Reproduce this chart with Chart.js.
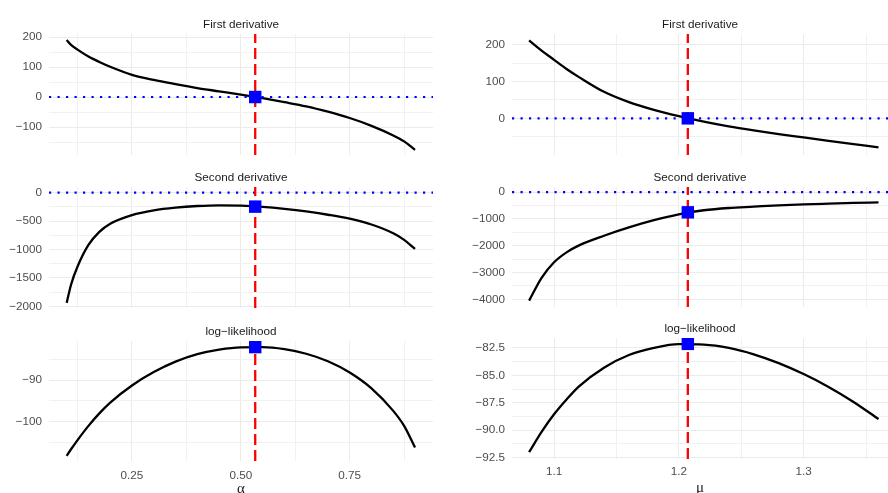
<!DOCTYPE html>
<html>
<head>
<meta charset="utf-8">
<title>Score, Hessian and log-likelihood</title>
<script src="https://cdn.jsdelivr.net/npm/chart.js@4.4.0/dist/chart.umd.min.js"></script>
<style>
    html, body { margin: 0; padding: 0; background: #fff; overflow: hidden; }
    #wrap { position: relative; width: 888px; height: 493px; overflow: hidden; }
    .panel { position: absolute; }
</style>
</head>
<body>
<div id="wrap"></div>
<script>
// alpha (left column)
const alphaVals    = [0.1, 0.11, 0.125, 0.15, 0.175, 0.2, 0.25, 0.3, 0.35, 0.4, 0.45, 0.5, 0.55, 0.6, 0.65, 0.7, 0.75, 0.8, 0.85, 0.875, 0.9];
const alphaScore   = [190, 174, 158, 135, 117, 101, 74, 57, 43, 30, 19, 8, -4, -17, -31, -49, -70, -96, -128, -148, -176];
const alphaHess    = [-1940, -1620, -1300, -920, -690, -545, -393, -310, -262, -234, -222, -228, -250, -285, -330, -388, -458, -560, -715, -830, -990];
const alphaLogLik  = [-108.2, -106.6, -104.4, -101.0, -98.0, -95.4, -91.3, -88.1, -85.6, -83.8, -82.7, -82.15, -82.12, -82.6, -83.7, -85.5, -88.2, -92.0, -97.4, -101.0, -106.2];
const alphaHat = 0.533;
const alphaHatValues = [0, -245, -82.1];   // score, hessian, loglik at the estimate

// mu (right column)
const muVals   = [1.08, 1.09, 1.1, 1.11, 1.12, 1.14, 1.16, 1.18, 1.2, 1.22, 1.24, 1.26, 1.28, 1.3, 1.32, 1.34, 1.36];
const muScore  = [212, 184, 159, 134, 112, 72, 44, 23, 6, -9, -22, -33, -43, -52, -61, -70, -79];
const muHess   = [-4050, -3200, -2620, -2250, -1990, -1630, -1320, -1050, -830, -680, -595, -545, -495, -460, -433, -408, -385];
const muLogLik = [-92.0, -90.15, -88.55, -87.2, -86.0, -84.3, -83.15, -82.5, -82.16, -82.2, -82.5, -83.08, -83.88, -84.88, -86.05, -87.42, -88.98];
const muHat = 1.2072;
const muHatValues = [0, -757, -82.13];

// tick labels
const alphaTicks  = [0.25, 0.5, 0.75];
const alphaLabels = ['0.25', '0.50', '0.75'];
const muTicks     = [1.1, 1.2, 1.3];
const muLabels    = ['1.1', '1.2', '1.3'];

const scoreTicksA  = [-100, 0, 100, 200];
const scoreLabelsA = ['\u2212100', '0', '100', '200'];
const hessTicksA   = [-2000, -1500, -1000, -500, 0];
const hessLabelsA  = ['\u22122000', '\u22121500', '\u22121000', '\u2212500', '0'];
const llTicksA     = [-100, -90];
const llLabelsA    = ['\u2212100', '\u221290'];

const scoreTicksM  = [0, 100, 200];
const scoreLabelsM = ['0', '100', '200'];
const hessTicksM   = [-4000, -3000, -2000, -1000, 0];
const hessLabelsM  = ['\u22124000', '\u22123000', '\u22122000', '\u22121000', '0'];
const llTicksM     = [-92.5, -90, -87.5, -85, -82.5];
const llLabelsM    = ['\u221292.5', '\u221290.0', '\u221287.5', '\u221285.0', '\u221282.5'];

const titles = ['First derivative', 'Second derivative', 'log\u2212likelihood'];

const wrap = document.getElementById('wrap');
const sans = "'Liberation Sans', Arial, sans-serif";

// major ticks plus ggplot style minor breaks halfway between them
function tickSet(majors, labels, min, max) {
    const step = majors[1] - majors[0];
    const all = majors.slice();
    for (let v = majors[0] - step / 2; v <= max; v += step) {
        if (v >= min) all.push(v);
    }
    all.sort((a, b) => a - b);
    return {
        build: (scale) => { scale.ticks = all.map(v => ({value: v})); },
        label: (v) => { const i = majors.indexOf(v); return i < 0 ? '' : labels[i]; },
        color: (ctx) => (ctx.tick && majors.includes(ctx.tick.value)) ? '#EBEBEB' : '#F1F1F1',
    };
}

function makePanel(p) {
    const canvas = document.createElement('canvas');
    canvas.className = 'panel';
    canvas.width = p.width;
    canvas.height = p.height;
    canvas.style.left = p.left + 'px';
    canvas.style.top = p.top + 'px';
    wrap.appendChild(canvas);

    const xt = tickSet(p.xTicks, p.xLabels, p.xMin, p.xMax);
    const yt = tickSet(p.yTicks, p.yLabels, p.yMin, p.yMax);
    const bottomRow = !!p.xTitle;

    const datasets = [
        {   // estimate
            data: [{x: p.xHat, y: p.yHat}],
            showLine: false,
            pointStyle: 'rect',
            pointRadius: 8.8,
            pointBackgroundColor: '#0000FF',
            pointBorderWidth: 0,
        },
        {   // vertical line at the estimate
            data: [{x: p.xHat, y: p.yMin}, {x: p.xHat, y: p.yMax}],
            borderColor: '#FF0000',
            borderWidth: 2.3,
            borderDash: [11, 5],
            pointRadius: 0,
        },
    ];
    if (p.zeroLine) {
        datasets.push({
            data: [{x: p.xMin, y: 0}, {x: p.xMax, y: 0}],
            borderColor: '#0000FF',
            borderWidth: 2.2,
            borderDash: [2.2, 6.3],
            pointRadius: 0,
        });
    }
    datasets.push({
        data: p.xs.map((x, i) => ({x: x, y: p.ys[i]})),
        borderColor: '#000000',
        borderWidth: 2.3,
        cubicInterpolationMode: 'monotone',
        pointRadius: 0,
    });

    new Chart(canvas, {
        type: 'line',
        data: {datasets: datasets},
        options: {
            responsive: false,
            animation: false,
            events: [],
            layout: {
                autoPadding: false,
                padding: {left: 0, right: p.padRight, top: 0, bottom: bottomRow ? 0 : 15},
            },
            plugins: {
                legend: {display: false},
                tooltip: {enabled: false},
                title: {
                    display: true,
                    text: p.title,
                    fullSize: false,
                    color: '#1A1A1A',
                    font: {family: sans, size: 11.7, weight: 'normal'},
                    padding: {top: 3.7, bottom: 2.3},
                },
            },
            scales: {
                x: {
                    type: 'linear',
                    min: p.xMin,
                    max: p.xMax,
                    afterBuildTicks: xt.build,
                    afterFit: (s) => { s.height = bottomRow ? p.xHeight : 0; },
                    border: {display: false},
                    grid: {color: xt.color, lineWidth: 1, drawTicks: false},
                    ticks: {
                        display: bottomRow,
                        autoSkip: false,
                        maxRotation: 0,
                        padding: p.xTickPad || 0,
                        color: '#4D4D4D',
                        font: {family: sans, size: 11.7},
                        callback: xt.label,
                    },
                    title: {
                        display: bottomRow,
                        text: p.xTitle || '',
                        color: '#1A1A1A',
                        font: {family: "'Liberation Serif', 'DejaVu Serif', serif", size: 15},
                        padding: {top: 0, bottom: p.xTitlePad || 0},
                    },
                },
                y: {
                    type: 'linear',
                    min: p.yMin,
                    max: p.yMax,
                    bounds: 'data',
                    afterBuildTicks: yt.build,
                    afterFit: (s) => { s.width = p.yWidth; },
                    border: {display: false},
                    grid: {color: yt.color, lineWidth: 1, drawTicks: false},
                    ticks: {
                        autoSkip: false,
                        padding: 7,
                        color: '#4D4D4D',
                        font: {family: sans, size: 11.7},
                        callback: yt.label,
                    },
                },
            },
        },
    });
}

const leftCol  = {left: 0,   width: 444, yWidth: 49, padRight: 11, xMin: 0.0594, xMax: 0.9413,
                  xs: alphaVals, xHat: alphaHat, xTicks: alphaTicks, xLabels: alphaLabels};
const rightCol = {left: 444, width: 444, yWidth: 68, padRight: 0,  xMin: 1.0663, xMax: 1.3676,
                  xs: muVals, xHat: muHat, xTicks: muTicks, xLabels: muLabels};

// row 1: first derivative
makePanel(Object.assign({}, leftCol, {top: 14, height: 156, title: titles[0], ys: alphaScore,
    yHat: alphaHatValues[0], yMin: -193.3, yMax: 210, yTicks: scoreTicksA, yLabels: scoreLabelsA, zeroLine: true}));
makePanel(Object.assign({}, rightCol, {top: 14, height: 156, title: titles[0], ys: muScore,
    yHat: muHatValues[0], yMin: -99.6, yMax: 229, yTicks: scoreTicksM, yLabels: scoreLabelsM, zeroLine: true}));

// row 2: second derivative
makePanel(Object.assign({}, leftCol, {top: 167, height: 156, title: titles[1], ys: alphaHess,
    yHat: alphaHatValues[1], yMin: -2030, yMax: 100, yTicks: hessTicksA, yLabels: hessLabelsA, zeroLine: true}));
makePanel(Object.assign({}, rightCol, {top: 167, height: 155, title: titles[1], ys: muHess,
    yHat: muHatValues[1], yMin: -4287, yMax: 186, yTicks: hessTicksM, yLabels: hessLabelsM, zeroLine: true}));

// row 3: log-likelihood, with the x axis
makePanel(Object.assign({}, leftCol, {top: 321, height: 180, title: titles[2], ys: alphaLogLik,
    yHat: alphaHatValues[2], yMin: -109.42, yMax: -80.65, yTicks: llTicksA, yLabels: llLabelsA,
    xTitle: '\u03b1', xHeight: 40, xTickPad: 8, xTitlePad: 3}));
makePanel(Object.assign({}, rightCol, {top: 318, height: 181, title: titles[2], ys: muLogLik,
    yHat: muHatValues[2], yMin: -92.62, yMax: -81.6, yTicks: llTicksM, yLabels: llLabelsM,
    xTitle: '\u03bc', xHeight: 40, xTickPad: 5.5, xTitlePad: 2.3}));
</script>
</body>
</html>
